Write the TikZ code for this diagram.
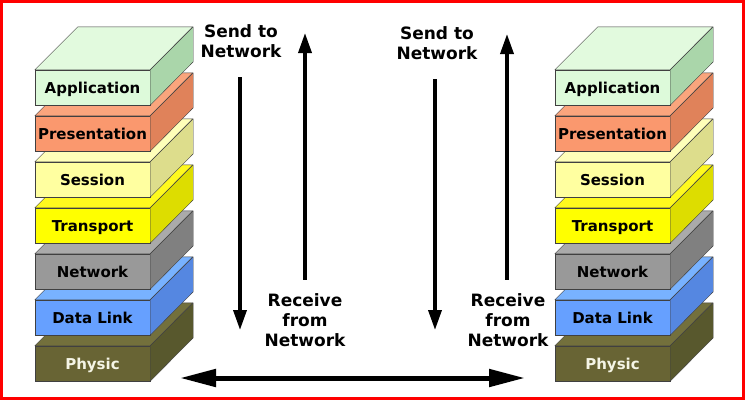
\documentclass[tikz,border=0pt]{standalone}
\usepackage{fontspec}
\setmainfont{DejaVu Sans}
\usetikzlibrary{arrows.meta, positioning, calc}
\definecolor{appF}{RGB}{221,250,218}
\definecolor{appT}{RGB}{226,250,222}
\definecolor{appS}{RGB}{170,214,170}
\definecolor{preF}{RGB}{250,152,110}
\definecolor{preT}{RGB}{250,165,125}
\definecolor{preS}{RGB}{224,130,90}
\definecolor{sesF}{RGB}{255,255,160}
\definecolor{sesT}{RGB}{255,255,185}
\definecolor{sesS}{RGB}{221,221,140}
\definecolor{traF}{RGB}{255,255,0}
\definecolor{traT}{RGB}{255,250,30}
\definecolor{traS}{RGB}{221,221,0}
\definecolor{netF}{RGB}{153,153,153}
\definecolor{netT}{RGB}{170,170,170}
\definecolor{netS}{RGB}{128,128,128}
\definecolor{dlF}{RGB}{102,160,255}
\definecolor{dlT}{RGB}{120,178,255}
\definecolor{dlS}{RGB}{85,135,225}
\definecolor{phyF}{RGB}{104,100,52}
\definecolor{phyT}{RGB}{115,112,60}
\definecolor{phyS}{RGB}{88,88,45}
\definecolor{physTxt}{RGB}{245,245,230}

\begin{document}
\begin{tikzpicture}[x=1pt, y=-1pt,
        lay/.style={draw=black!75, fill=#1F, minimum width=115pt, minimum height=35pt,
                    inner sep=0pt, text height=11pt, text depth=0pt,
                    font=\fontsize{15}{18}\selectfont\bfseries},
        face/.style={draw=black!75, line join=round},
        lbl/.style={align=center, font=\fontsize{17}{20}\selectfont\bfseries},
        arr/.style={-{Triangle[length=20pt,width=13pt]}, line width=3.5pt}
      ]
        \useasboundingbox (0,0) rectangle (745,400);
        \draw[red, line width=3pt] (1.5,1.5) rectangle (743.5,398.5);
        % OSI stacks, bottom layer first
        \foreach \side/\xo in {L/35, R/555} {
          \foreach \nm/\lb/\lc/\row/\tc in {phy/Physic/phy/6/physTxt, dl/Data Link/dl/5/black,
              net/Network/net/4/black, tra/Transport/tra/3/black, ses/Session/ses/2/black,
              pre/Presentation/pre/1/black, app/Application/app/0/black} {
            \node[lay=\lc, text=\tc] (\nm\side) at (\xo+57.5, 87.5+46*\row) {\lb};
            \draw[face, fill=\lc T] (\nm\side.north west) -- ++(43,-43) -- ++(115,0)
              -- (\nm\side.north east) -- cycle;
            \draw[face, fill=\lc S] (\nm\side.north east) -- ++(43,-43) -- ++(0,35)
              -- (\nm\side.south east) -- cycle;
          }
        }
        % labels
        \node[lbl] (sendL) at (241,41) {Send to\\Network};
        \node[lbl] (sendR) at (437,43) {Send to\\Network};
        \node[lbl] (recvL) at (305,320) {Receive\\from\\Network};
        \node[lbl] (recvR) at (508,320) {Receive\\from\\Network};
        \coordinate (downL) at (240,330);
        \coordinate (downR) at (435,330);
        \coordinate (upL) at (305,33);
        \coordinate (upR) at (507,34);
        \coordinate (wireL) at (180,378);
        \coordinate (wireR) at (525,378);
        % send / receive arrows
        \draw[arr] ([xshift=-1pt, yshift=-16pt]sendL.south) -- (downL);
        \draw[arr] ([xshift=-2pt, yshift=-16pt]sendR.south) -- (downR);
        \draw[arr] ([yshift=10pt]recvL.north) -- (upL);
        \draw[arr] ([xshift=-1pt, yshift=10pt]recvR.north) -- (upR);
        % physical link
        \draw[{Triangle[length=36pt,width=17pt]}-{Triangle[length=36pt,width=17pt]},
              line width=5pt] (wireL) -- (wireR);
      \end{tikzpicture}
\end{document}
